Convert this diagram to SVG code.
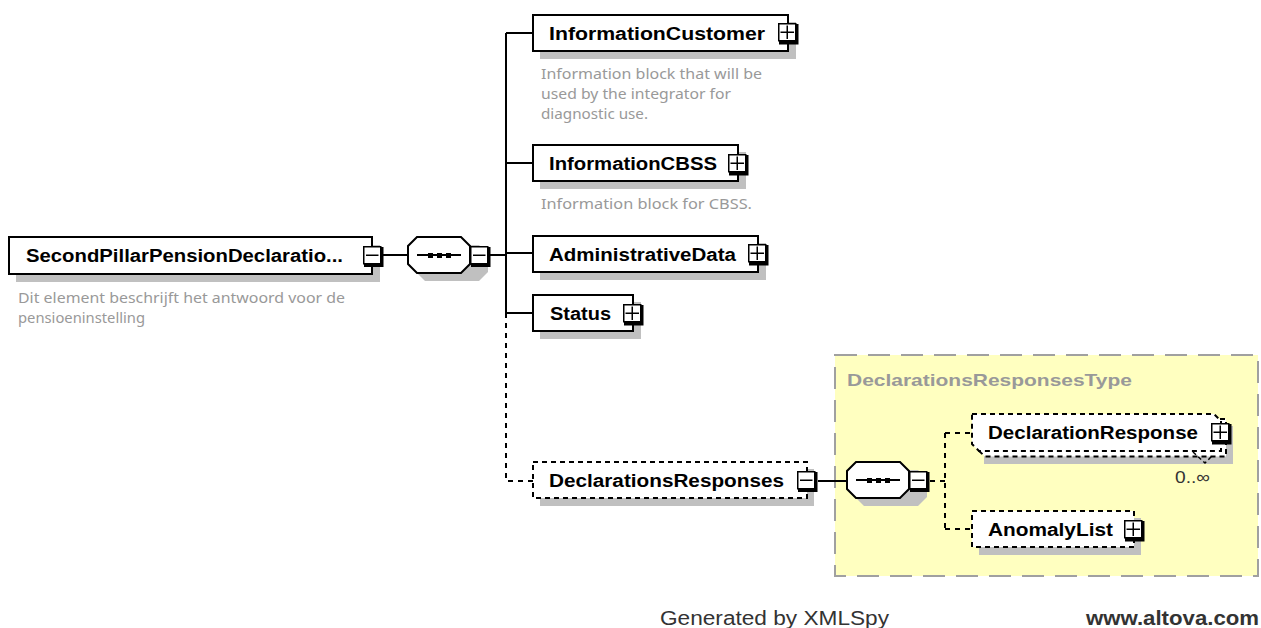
<svg xmlns="http://www.w3.org/2000/svg" width="1261" height="628" viewBox="0 0 1261 628">
<style>
.bg{fill:#fff}
.shadow{fill:#c0c0c0;stroke:none}
.box{fill:#fff;stroke:#000;stroke-width:2}
.opt{fill:#fff;stroke:#000;stroke-width:2;stroke-dasharray:5 4}
.line{fill:none;stroke:#000;stroke-width:2}
.dash{fill:none;stroke:#000;stroke-width:2;stroke-dasharray:5 5}
.name{font-family:"Liberation Sans",Arial,sans-serif;font-weight:700;font-size:18px;fill:#000}
.desc{font-family:"Noto Sans",Tahoma,sans-serif;font-size:14px;fill:#999}
.foot{font-family:"Liberation Sans",Arial,sans-serif;font-size:20px;fill:#333}
.tb{fill:#fff;stroke:#000;stroke-width:1.5}
.tbs{fill:#000}
.dots{fill:#000}
</style>
<defs>
<g id="minus"><rect class="tbs" x="1" y="1" width="19.500" height="20"/><rect class="tb" x="0.75" y="0.75" width="17" height="17"/><path class="line" style="stroke-width:1.500" d="M3 9.250H15.500"/></g>
<g id="plus"><rect class="tbs" x="1" y="1" width="19.500" height="20.500"/><rect class="tb" x="0.75" y="0.75" width="17" height="17"/><path class="line" style="stroke-width:1.500" d="M2.500 9.250H16M9.250 2.500V16"/></g>
<g id="seq"><path class="shadow" d="M17 8H71L80 17V35L71 44H17L8 35V17Z"/><path class="box" d="M9 0H53L62 9V27L53 36H9L0 27V9Z"/><path class="line" d="M9 18H53"/><rect class="dots" x="20" y="16" width="5" height="5"/><rect class="dots" x="29" y="16" width="5" height="5"/><rect class="dots" x="38" y="16" width="5" height="5"/></g>
</defs>
<rect class="bg" width="1261" height="628"/>

<g id="type-DeclarationsResponsesType">
<rect x="835" y="355" width="423" height="221" fill="#ffffc0" stroke="#a0a0a0" stroke-width="2" stroke-dasharray="22 11"/>
<text x="847" y="386" font-family="Liberation Sans,Arial,sans-serif" font-weight="700" font-size="17" fill="#999" textLength="285" lengthAdjust="spacingAndGlyphs">DeclarationsResponsesType</text>
</g>

<g id="connectors">
<path class="line" d="M382 255H408M489 255H506M506 33V313M506 33H533M506 163H533M506 253H533M506 313H533"/>
<path class="dash" d="M506 313V481H533"/>
<path class="line" d="M818 481H847"/>
<path class="dash" d="M930 481H945M945 433V529M945 433H972M945 529H972"/>
</g>

<g id="node-root">
<rect class="shadow" x="16" y="245" width="364" height="37"/>
<rect class="box" x="9" y="237" width="363" height="37"/>
<text class="name" x="26" y="261.500" textLength="317" lengthAdjust="spacingAndGlyphs">SecondPillarPensionDeclaratio...</text>
<use href="#minus" x="363" y="246"/>
<text class="desc" x="18" y="302.500" textLength="327" lengthAdjust="spacingAndGlyphs">Dit element beschrijft het antwoord voor de</text>
<text class="desc" x="18" y="322.500" textLength="127" lengthAdjust="spacingAndGlyphs">pensioeninstelling</text>
</g>

<g id="seq-1">
<use href="#seq" x="408" y="237"/>
<use href="#minus" x="470" y="246"/>
</g>

<g id="node-InformationCustomer">
<rect class="shadow" x="540" y="22" width="256" height="37"/>
<rect class="box" x="533" y="15" width="255" height="36"/>
<text class="name" x="549" y="39.500" textLength="216" lengthAdjust="spacingAndGlyphs">InformationCustomer</text>
<use href="#plus" x="778" y="23"/>
<text class="desc" x="541" y="78.500" textLength="221" lengthAdjust="spacingAndGlyphs">Information block that will be</text>
<text class="desc" x="541" y="98.500" textLength="190" lengthAdjust="spacingAndGlyphs">used by the integrator for</text>
<text class="desc" x="541" y="118.500" textLength="107" lengthAdjust="spacingAndGlyphs">diagnostic use.</text>
</g>

<g id="node-InformationCBSS">
<rect class="shadow" x="540" y="152" width="206" height="37"/>
<rect class="box" x="533" y="145" width="205" height="36"/>
<text class="name" x="549" y="169.500" textLength="168" lengthAdjust="spacingAndGlyphs">InformationCBSS</text>
<use href="#plus" x="728" y="154"/>
<text class="desc" x="541" y="208.500" textLength="211" lengthAdjust="spacingAndGlyphs">Information block for CBSS.</text>
</g>

<g id="node-AdministrativeData">
<rect class="shadow" x="540" y="243" width="226" height="37"/>
<rect class="box" x="533" y="236" width="225" height="36"/>
<text class="name" x="549" y="260.500" textLength="187" lengthAdjust="spacingAndGlyphs">AdministrativeData</text>
<use href="#plus" x="748" y="244"/>
</g>

<g id="node-Status">
<rect class="shadow" x="540" y="302" width="101" height="37"/>
<rect class="box" x="533" y="295" width="100" height="36"/>
<text class="name" x="550" y="319.500" textLength="61" lengthAdjust="spacingAndGlyphs">Status</text>
<use href="#plus" x="623" y="304"/>
</g>

<g id="node-DeclarationsResponses">
<rect class="shadow" x="540" y="469" width="274" height="37"/>
<rect class="opt" x="533" y="462" width="274" height="36"/>
<text class="name" x="549" y="486.500" textLength="235" lengthAdjust="spacingAndGlyphs">DeclarationsResponses</text>
<use href="#minus" x="797" y="471"/>
</g>

<g id="seq-2">
<use href="#seq" x="847" y="462"/>
<use href="#minus" x="909" y="471"/>
</g>

<g id="node-DeclarationResponse">
<rect class="shadow" x="984" y="426" width="249" height="38"/>
<path class="opt" d="M977 419H1226V456.500H985L977 449Z"/>
<path class="opt" d="M972 414H1214L1221 421V451H979L972 444Z"/>
<text class="name" x="988" y="438.500" textLength="210" lengthAdjust="spacingAndGlyphs">DeclarationResponse</text>
<use href="#plus" x="1211" y="423"/>
<path class="dash" style="stroke-width:1.500;stroke-dasharray:4 3" d="M1193 452L1205 463L1212 456"/>
<text x="1175" y="483" font-family="Liberation Sans,Arial,sans-serif" font-size="17" fill="#333" textLength="35" lengthAdjust="spacingAndGlyphs">0..∞</text>
</g>

<g id="node-AnomalyList">
<rect class="shadow" x="979" y="518" width="162" height="37"/>
<rect class="opt" x="972" y="511" width="162" height="36"/>
<text class="name" x="988" y="535.500" textLength="125" lengthAdjust="spacingAndGlyphs">AnomalyList</text>
<use href="#plus" x="1124" y="520"/>
</g>

<g id="footer">
<text class="foot" x="660" y="625" textLength="229" lengthAdjust="spacingAndGlyphs">Generated by XMLSpy</text>
<text class="foot" x="1086" y="625" font-weight="700" textLength="173" lengthAdjust="spacingAndGlyphs">www.altova.com</text>
</g>
</svg>
